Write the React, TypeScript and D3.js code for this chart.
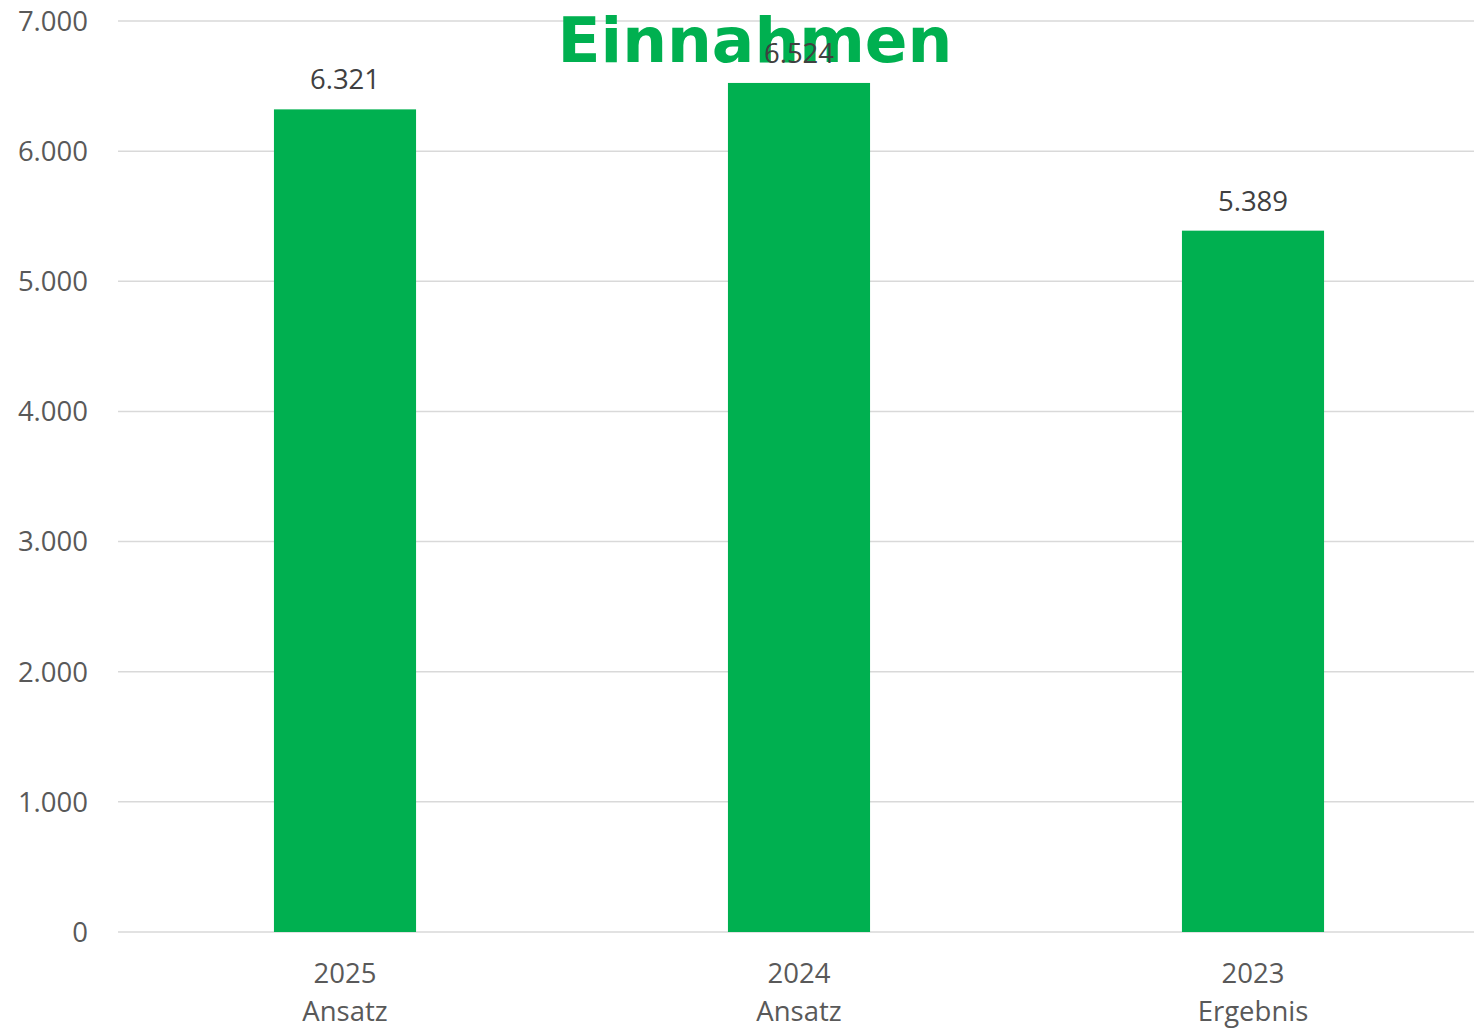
import React from "react";
import * as d3 from "d3";

const categories = ["2025|Ansatz", "2024|Ansatz", "2023|Ergebnis"];
const values = [6321, 6524, 5389];
const yTicks = [0, 1000, 2000, 3000, 4000, 5000, 6000, 7000];
const title = "Einnahmen";

const W = 1474;
const H = 1028;
const green = "#00b050";
const font = "'Open Sans', 'Noto Sans', sans-serif";

const fmt = (v: number) => d3.format(",")(v).replace(/,/g, ".");

export default function App() {
  const x = d3.scaleBand<string>().domain(categories).range([118, 1480]).paddingInner(0.687).paddingOuter(0.3435);
  const y = d3.scaleLinear().domain([0, 7000]).range([932, 21]);
  return (
    <svg width={W} height={H} style={{ position: "absolute", left: 0, top: 0, background: "#fff" }}>
      {yTicks.map((t) => (
        <g key={t}>
          <line x1={118} x2={1474} y1={y(t)} y2={y(t)} stroke="#d9d9d9" strokeWidth={1.5} />
          <text x={88} y={y(t)} dy="0.36em" textAnchor="end" fontFamily={font} fontSize={27.5} fill="#595959">
            {fmt(t)}
          </text>
        </g>
      ))}
      <text x={755} y={62} textAnchor="middle" fontFamily="'DejaVu Sans', Verdana, sans-serif" fontWeight="bold" fontSize={63} fill={green}>
        {title}
      </text>
      {categories.map((c, i) => {
        const [l1, l2] = c.split("|");
        const bx = x(c)!;
        const bw = x.bandwidth();
        const cx = bx + bw / 2;
        return (
          <g key={c}>
            <rect x={bx} y={y(values[i])} width={bw} height={y(0) - y(values[i])} fill={green} />
            <text x={cx} y={y(values[i]) - 20} textAnchor="middle" fontFamily={font} fontSize={27.5} fill="#404040">
              {fmt(values[i])}
            </text>
            <text x={cx} y={983} textAnchor="middle" fontFamily={font} fontSize={27.5} fill="#595959">
              {l1}
            </text>
            <text x={cx} y={1021} textAnchor="middle" fontFamily={font} fontSize={27.5} fill="#595959">
              {l2}
            </text>
          </g>
        );
      })}
    </svg>
  );
}
